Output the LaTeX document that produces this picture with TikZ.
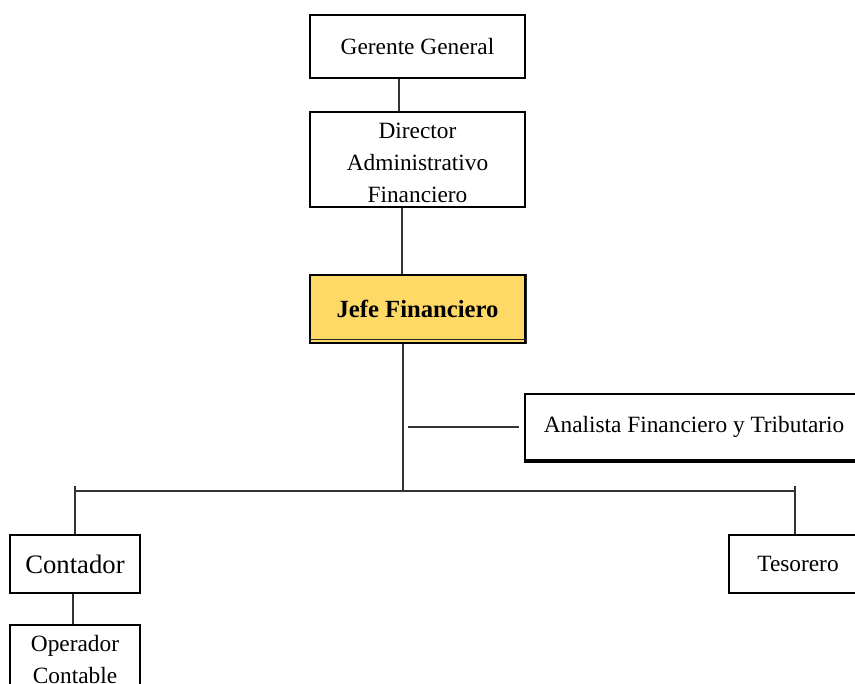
\documentclass[tikz,border=0pt]{standalone}
\usepackage{fontspec}
\setmainfont{Liberation Serif}
\usepackage{xcolor}
\usetikzlibrary{calc}
\definecolor{jefegold}{HTML}{FFD966}
\tikzset{
  orgbox/.style={draw=black, line width=0.9pt, fill=white, inner sep=0pt, align=center, font=\fontsize{17.5}{24}\selectfont},
  orghead/.style={orgbox, fill=jefegold, font=\fontsize{18.5}{24}\selectfont\bfseries},
  orglink/.style={line width=1.1pt, draw=black!80},
  orgedge/.style={line width=0.9pt, draw=black!85},
}

\begin{document}
\begin{tikzpicture}[x=0.75pt,y=-0.75pt]
\useasboundingbox (0,0) rectangle (855,684);
\clip (0,0) rectangle (855,684);
% boxes
\node[orgbox, minimum width=161.25pt, minimum height=47.25pt] (ger) at (417.5,46.5) {Gerente General};
\node[orgbox, minimum width=161.25pt, minimum height=71.25pt] (dir) at (417.5,159.5) {\raisebox{0pt}[\dimexpr\height+4.5pt]{Director}\\Administrativo\\Financiero};
\node[orghead, minimum width=161.25pt, minimum height=51pt] (jefe) at (417.5,309) {Jefe Financiero};
\node[orgbox, minimum width=253.5pt, minimum height=49.5pt] (ana) at (694,427) {Analista Financiero y Tributario};
\node[orgbox, minimum width=97.5pt, minimum height=43.5pt, font=\fontsize{20}{24}\selectfont] (cont) at (75,564) {Contador};
\node[orgbox, minimum width=103.5pt, minimum height=43.5pt] (teso) at (798,564) {Tesorero};
\node[orgbox, minimum width=97.5pt, minimum height=52.5pt] (oper) at (75,660) {Operador\\Contable};
% heavier lower edges
\draw[orgedge] ($(jefe.south west)+(0,-4)$) -- ($(jefe.south east)+(0,-4)$);
\draw[orgedge] ($(jefe.south east)+(1,0)$) -- ($(jefe.north east)+(1,0)$);
\draw[line width=1.6pt] ($(ana.south west)+(0,1)$) -- ($(ana.south east)+(0,1)$);
% links
\coordinate (bustop) at (403,492);
\coordinate (busL) at (75,491);
\coordinate (busR) at (795,491);
\coordinate (anatap) at (408,427);
\draw[orglink] ($(ger.south)+(-18.5,0)$) -- ($(dir.north)+(-18.5,0)$);
\draw[orglink] ($(dir.south)+(-15.5,0)$) -- ($(jefe.north)+(-15.5,0)$);
\draw[orglink] (jefe.south -| bustop) -- (bustop);
\draw[orglink] (anatap) -- ($(ana.west)+(-5,0)$);
\draw[orglink] (busL) -- (busR);
\draw[orglink] ($(cont.north)+(0,-48)$) -- (cont.north);
\draw[orglink] ($(teso.north)+(-3,-48)$) -- ($(teso.north)+(-3,0)$);
\draw[orglink] ($(cont.south)+(-2,0)$) -- ($(oper.north)+(-2,0)$);
\end{tikzpicture}
\end{document}
